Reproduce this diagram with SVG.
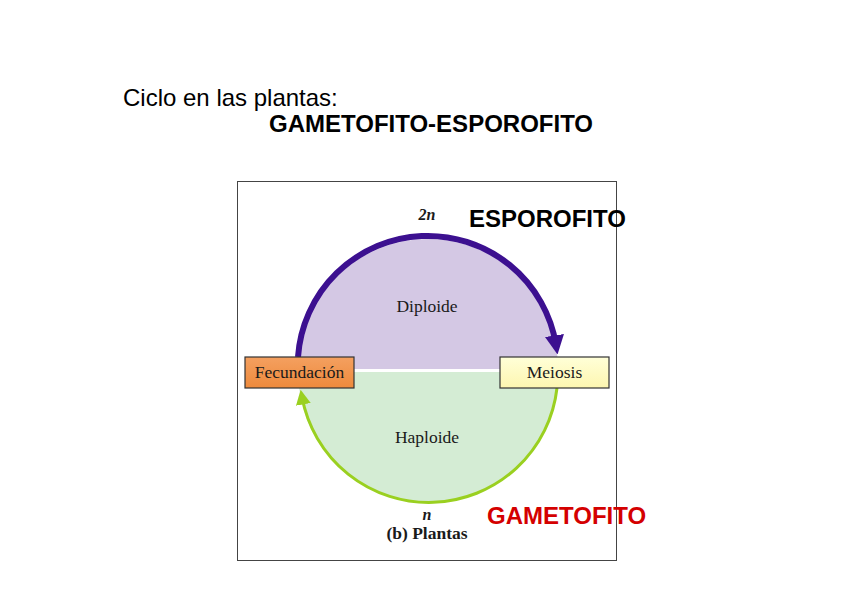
<svg xmlns="http://www.w3.org/2000/svg" width="848" height="599" viewBox="0 0 848 599">
<style>
.sans{font-family:"Liberation Sans",Arial,sans-serif}
.serif{font-family:"Liberation Serif","Times New Roman",serif;fill:#1a1a1a}
.box{stroke:#333;stroke-width:1.2}
</style>
<defs>
<linearGradient id="gOr" x1="0" y1="0" x2="0" y2="1"><stop offset="0" stop-color="#f4a060"/><stop offset="1" stop-color="#ee8a3c"/></linearGradient>
<linearGradient id="gYe" x1="0" y1="0" x2="0" y2="1"><stop offset="0" stop-color="#ffffd8"/><stop offset="1" stop-color="#fdf6b0"/></linearGradient>
<marker id="mPu" viewBox="0 0 10 10" refX="5" refY="5" markerWidth="3.2" markerHeight="3.2" orient="auto"><path d="M0,0 L10,5 L0,10 z" fill="#3c1090"/></marker>
<marker id="mGr" viewBox="0 0 10 10" refX="5" refY="5" markerWidth="5" markerHeight="5" orient="auto"><path d="M0,0 L10,5 L0,10 z" fill="#9ad020"/></marker>
</defs>
<rect width="848" height="599" fill="#fff"/>
<text class="sans" x="123" y="106" font-size="24">Ciclo en las plantas:</text>
<text class="sans" x="269" y="132" font-size="24" font-weight="bold">GAMETOFITO-ESPOROFITO</text>
<rect x="237.5" y="181.5" width="379" height="379" fill="#fff" stroke="#444" stroke-width="1"/>
<g id="halves">
<path d="M298,369 A130,130 0 0 1 558,369 Z" fill="#d4c8e4"/>
<path d="M298,372 A130,130 0 0 0 558,372 Z" fill="#d4ecd4"/>
</g>
<g id="connectors">
<path d="M298,357 A130,130 0 0 1 556,345" fill="none" stroke="#3c1090" stroke-width="6" marker-end="url(#mPu)"/>
<path d="M557,388 A129,129 0 0 1 302,397" fill="none" stroke="#9ad020" stroke-width="3" marker-end="url(#mGr)"/>
</g>
<g id="fecundacion">
<rect class="box" x="245" y="357" width="109" height="31" fill="url(#gOr)"/>
<text class="serif" x="299.5" y="378" font-size="17.5" text-anchor="middle">Fecundación</text>
</g>
<g id="meiosis">
<rect class="box" x="500" y="357" width="109" height="31" fill="url(#gYe)"/>
<text class="serif" x="554.5" y="378" font-size="17.5" text-anchor="middle">Meiosis</text>
</g>
<text class="serif" x="427" y="220" font-size="16" font-weight="bold" font-style="italic" text-anchor="middle">2n</text>
<text class="serif" x="427" y="312" font-size="17.5" text-anchor="middle">Diploide</text>
<text class="serif" x="427" y="443" font-size="17.5" text-anchor="middle">Haploide</text>
<text class="serif" x="427" y="520" font-size="16" font-weight="bold" font-style="italic" text-anchor="middle">n</text>
<text class="serif" x="427" y="539" font-size="17.5" font-weight="bold" text-anchor="middle">(b) Plantas</text>
<text class="sans" x="469" y="227" font-size="24" font-weight="bold">ESPOROFITO</text>
<text class="sans" x="487" y="524" font-size="24" font-weight="bold" fill="#d40000">GAMETOFITO</text>
</svg>
